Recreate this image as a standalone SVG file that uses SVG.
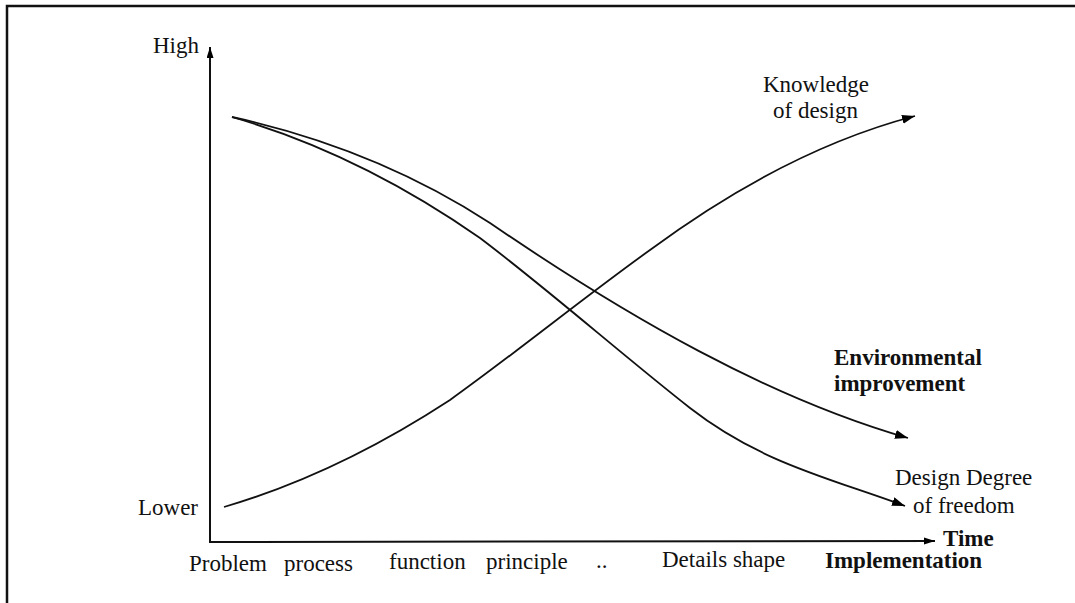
<svg xmlns="http://www.w3.org/2000/svg" width="1075" height="603" viewBox="0 0 1075 603">
  <defs>
    <marker id="head" markerUnits="userSpaceOnUse" markerWidth="14" markerHeight="10" refX="13" refY="4.5" orient="auto">
      <path d="M0,0 L13,4.5 L0,9 Z" fill="#000"/>
    </marker>
    <marker id="axisHead" markerUnits="userSpaceOnUse" markerWidth="12" markerHeight="8" refX="11" refY="3.5" orient="auto">
      <path d="M0,0 L11,3.5 L0,7 Z" fill="#000"/>
    </marker>
  </defs>
  <style>
    .lbl { font-family: "Liberation Serif", "Times New Roman", serif; font-size: 23px; fill: #111; }
    .bold { font-weight: bold; }
    .curve { fill: none; stroke: #111; stroke-width: 1.8; }
    .axis { fill: none; stroke: #111; stroke-width: 2; }
    .frame { fill: none; stroke: #111; stroke-width: 2.5; }
  </style>

  <rect width="1075" height="603" fill="#fff"/>

  <!-- open frame: top and left edges only -->
  <path class="frame" d="M7,603 L7,6 L1075,6"/>

  <g id="axes">
    <line class="axis" x1="210" y1="543" x2="210" y2="47" marker-end="url(#axisHead)"/>
    <line class="axis" x1="209" y1="542" x2="935" y2="541" marker-end="url(#axisHead)"/>
  </g>

  <g id="connectors">
    <!-- knowledge of design: rising S-curve -->
    <path class="curve" marker-end="url(#head)"
          d="M224,507 C299,485 375,449 450,400 C517,352 583,298 650,250 C738,185 827,139 915,116"/>
    <!-- environmental improvement -->
    <path class="curve" marker-end="url(#head)"
          d="M232,117 C318,136 404,167 490,223 C629,318 769,398 908,438"/>
    <!-- design degree of freedom -->
    <path class="curve" marker-end="url(#head)"
          d="M232,117 C315,141 397,180 480,238 C550,291 620,353 690,408 C762,464 833,479 905,506"/>
  </g>

  <g id="axis-labels">
    <text class="lbl" x="153" y="53">High</text>
    <text class="lbl" x="138" y="515">Lower</text>
    <text class="lbl bold" x="943" y="546">Time</text>
  </g>

  <g id="curve-labels">
    <text class="lbl" x="763" y="92">Knowledge</text>
    <text class="lbl" x="773" y="118">of design</text>
    <text class="lbl bold" x="834" y="365">Environmental</text>
    <text class="lbl bold" x="834" y="391">improvement</text>
    <text class="lbl" x="895" y="485">Design Degree</text>
    <text class="lbl" x="913" y="513">of freedom</text>
  </g>

  <g id="stage-labels">
    <text class="lbl" x="189" y="571">Problem</text>
    <text class="lbl" x="284" y="571">process</text>
    <text class="lbl" x="389" y="569">function</text>
    <text class="lbl" x="486" y="569">principle</text>
    <text class="lbl" x="596" y="568">..</text>
    <text class="lbl" x="662" y="567">Details shape</text>
    <text class="lbl bold" x="825" y="568">Implementation</text>
  </g>
</svg>
